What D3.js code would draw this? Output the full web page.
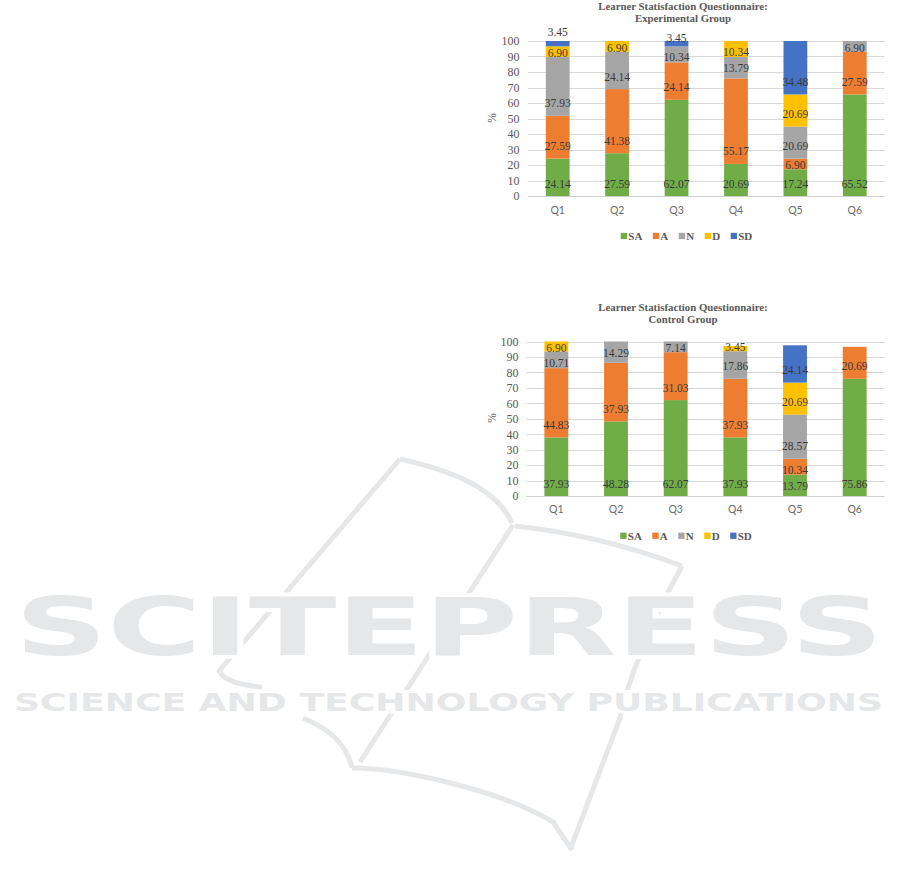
<!DOCTYPE html>
<html>
<head>
<meta charset="utf-8">
<script src="https://cdn.jsdelivr.net/npm/d3@7/dist/d3.min.js"></script>
<style>
  html, body { margin: 0; padding: 0; background: #ffffff; }
  svg { display: block; }
</style>
</head>
<body>
<script>
// ---------------- DATA ----------------
const categories = ["Q1", "Q2", "Q3", "Q4", "Q5", "Q6"];
const seriesNames = ["SA", "A", "N", "D", "SD"];
const yTicks = [0, 10, 20, 30, 40, 50, 60, 70, 80, 90, 100];

// Experimental group (%)
const expSA = [24.14, 27.59, 62.07, 20.69, 17.24, 65.52];
const expA  = [27.59, 41.38, 24.14, 55.17, 6.90, 27.59];
const expN  = [37.93, 24.14, 10.34, 13.79, 20.69, 6.90];
const expD  = [6.90, 6.90, 0, 10.34, 20.69, 0];
const expSD = [3.45, 0, 3.45, 0, 34.48, 0];

// Control group (%)
const ctrlSA = [37.93, 48.28, 62.07, 37.93, 13.79, 75.86];
const ctrlA  = [44.83, 37.93, 31.03, 37.93, 10.34, 20.69];
const ctrlN  = [10.71, 14.29, 7.14, 17.86, 28.57, 0];
const ctrlD  = [6.90, 0, 0, 3.45, 20.69, 0];
const ctrlSD = [0, 0, 0, 0, 24.14, 0];

const titleLine1 = "Learner Statisfaction Questionnaire:";
const expTitle2 = "Experimental Group";
const ctrlTitle2 = "Control Group";
const yAxisTitle = "%";
const watermarkBig = "SCITEPRESS";
const watermarkSmall = "SCIENCE AND TECHNOLOGY PUBLICATIONS";

// ---------------- STYLE ----------------
const colors = { SA: "#70AD47", A: "#ED7D31", N: "#A5A5A5", D: "#FFC000", SD: "#4472C4" };
const SERIF = "'Liberation Serif', 'Times New Roman', serif";
const SANS = "Lato, 'Liberation Sans', sans-serif";
const WM = "#e6e7e8";

const W = 901, H = 886;
const svg = d3.select("body").append("svg").attr("width", W).attr("height", H);

// ---------------- WATERMARK ----------------
const wm = svg.append("g");
const wmPaths = [
  "M400,459 L219,671 Q226,684 262,687",
  "M400,459 C440,468 495,484 512,523",
  "M513,525 L360,762",
  "M515,526 Q600,535 682,566",
  "M682,566 C652,620 628,680 620,718 L570,850",
  "M352,768 C400,768 500,790 553,822 L572,850",
  "M303,718 Q345,735 352,768"
];
wm.selectAll("path").data(wmPaths).join("path")
  .attr("d", d => d)
  .attr("fill", "none")
  .attr("stroke", WM)
  .attr("stroke-width", 5)
  .attr("stroke-linejoin", "round");

wm.append("text")
  .attr("x", 15).attr("y", 655)
  .attr("textLength", 868).attr("lengthAdjust", "spacingAndGlyphs")
  .style("font-family", "'DejaVu Sans', sans-serif")
  .style("font-weight", "bold")
  .style("font-size", "80px")
  .attr("fill", WM)
  .attr("stroke", "#ffffff").attr("stroke-width", 8)
  .style("paint-order", "stroke")
  .text(watermarkBig);

wm.append("text")
  .attr("x", 14).attr("y", 711)
  .attr("textLength", 869).attr("lengthAdjust", "spacingAndGlyphs")
  .style("font-family", "'DejaVu Sans', sans-serif")
  .style("font-weight", "bold")
  .style("font-size", "24.5px")
  .attr("fill", WM)
  .attr("stroke", "#ffffff").attr("stroke-width", 6)
  .style("paint-order", "stroke")
  .text(watermarkSmall);

// ---------------- CHARTS ----------------
function drawChart(cfg) {
  const g = svg.append("g");
  const rows = categories.map((c, i) => {
    const r = { cat: c };
    seriesNames.forEach((s, k) => { r[s] = cfg.series[k][i]; });
    return r;
  });

  const x = d3.scaleBand().domain(categories).range([cfg.x0, cfg.x1])
    .paddingInner(0.6).paddingOuter(0.3);
  const y = d3.scaleLinear().domain([0, 100]).range([cfg.yBottom, cfg.yTop]).clamp(true);

  // gridlines
  g.append("g").selectAll("line").data(yTicks).join("line")
    .attr("x1", cfg.x0).attr("x2", cfg.x1)
    .attr("y1", d => Math.round(y(d)) + 0.5).attr("y2", d => Math.round(y(d)) + 0.5)
    .attr("stroke", d => d === 0 ? "#cfcfcf" : "#d9d9d9")
    .attr("stroke-width", 1);

  // y tick labels
  const yAxis = d3.axisLeft(y).tickValues(yTicks).tickSize(0).tickPadding(0);
  const ya = g.append("g").attr("transform", `translate(${cfg.yLabelEnd},0)`).call(yAxis);
  ya.select(".domain").remove();
  ya.selectAll("text")
    .style("font-family", SERIF).style("font-size", "12px")
    .attr("fill", "#595959");

  // y axis title
  g.append("text")
    .attr("transform", `translate(${cfg.pctX},${cfg.pctY}) rotate(-90)`)
    .attr("text-anchor", "middle").attr("dominant-baseline", "central")
    .style("font-family", SERIF).style("font-size", "11.5px")
    .attr("fill", "#595959")
    .text(yAxisTitle);

  // x axis labels
  const xAxis = d3.axisBottom(x).tickSize(0).tickPadding(0);
  const xa = g.append("g").attr("transform", `translate(0,${cfg.xLabelY})`).call(xAxis);
  xa.select(".domain").remove();
  xa.selectAll("text")
    .attr("dy", "0.35em").attr("y", 0)
    .style("font-family", SANS).style("font-size", "10.5px")
    .attr("fill", "#6a6a6a");

  // stacked bars
  const stacked = d3.stack().keys(seriesNames)(rows);
  const layers = g.append("g").selectAll("g").data(stacked).join("g")
    .attr("fill", d => colors[d.key]);
  layers.selectAll("rect").data(d => d.filter(p => p[1] - p[0] > 0)).join("rect")
    .attr("x", d => x(d.data.cat))
    .attr("width", x.bandwidth())
    .attr("y", d => y(d[1]))
    .attr("height", d => y(d[0]) - y(d[1]));

  // data labels
  const labels = [];
  stacked.forEach(layer => {
    layer.forEach(p => {
      const v = p.data[layer.key];
      if (v > 0) labels.push({ key: layer.key, cat: p.data.cat, v, p0: p[0], p1: p[1] });
    });
  });
  g.append("g").selectAll("text").data(labels).join("text")
    .attr("x", d => x(d.cat) + x.bandwidth() / 2)
    .attr("y", d => {
      const base = y(d.p0), top = y(d.p1), h = base - top;
      const nudge = cfg.nudges[d.cat + "-" + d.key];
      if (nudge !== undefined) return top + nudge;
      const off = Math.max(4, Math.min(12.5, h - 11));
      return base - off;
    })
    .attr("text-anchor", "middle").attr("dominant-baseline", "central")
    .style("font-family", SERIF).style("font-size", "11.5px")
    .attr("fill", "#3a3a3a")
    .text(d => d.v.toFixed(2));

  // title
  const t = g.append("text")
    .attr("text-anchor", "middle")
    .style("font-family", SERIF).style("font-size", "10.8px").style("font-weight", "bold")
    .attr("fill", "#595959");
  t.append("tspan").attr("x", cfg.titleX).attr("y", cfg.titleY1).attr("dominant-baseline", "central").text(titleLine1);
  t.append("tspan").attr("x", cfg.titleX).attr("y", cfg.titleY2).attr("dominant-baseline", "central").text(cfg.title2);

  // legend
  const lg = g.append("g");
  let cx = 0;
  seriesNames.forEach((s, i) => {
    const item = lg.append("g").attr("transform", `translate(${cx},0)`);
    item.append("rect").attr("x", 0).attr("y", -3.2).attr("width", 6.3).attr("height", 6.3).attr("fill", colors[s]);
    const tx = item.append("text").attr("x", 7.5).attr("y", 0)
      .attr("dominant-baseline", "central")
      .style("font-family", SERIF).style("font-size", "11px").style("font-weight", "bold")
      .attr("fill", "#595959").text(s);
    cx += 7.5 + tx.node().getComputedTextLength() + 10.5;
  });
  const totalW = cx - 10.5;
  lg.attr("transform", `translate(${cfg.legendCX - totalW / 2},${cfg.legendY})`);
}

drawChart({
  series: [expSA, expA, expN, expD, expSD],
  title2: expTitle2,
  x0: 528, x1: 884.5, yTop: 41, yBottom: 196,
  yLabelEnd: 519.5, pctX: 491.5, pctY: 118,
  xLabelY: 210, legendY: 236, legendCX: 686.5,
  titleX: 683, titleY1: 5.7, titleY2: 18.3,
  nudges: { "Q1-SD": -9.3, "Q3-SD": -2.7 }
});

drawChart({
  series: [ctrlSA, ctrlA, ctrlN, ctrlD, ctrlSD],
  title2: ctrlTitle2,
  x0: 526.5, x1: 884.5, yTop: 341.5, yBottom: 496,
  yLabelEnd: 518.5, pctX: 491.5, pctY: 418,
  xLabelY: 509.5, legendY: 535.8, legendCX: 686,
  titleX: 683, titleY1: 306.7, titleY2: 319,
  nudges: {}
});
</script>
</body>
</html>
